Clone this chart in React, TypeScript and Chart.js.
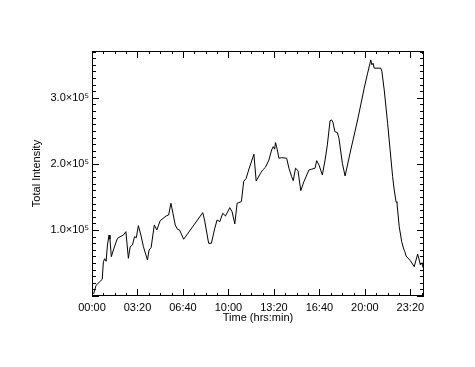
import React, { useEffect, useRef } from 'react';
import { Chart, registerables } from 'chart.js';

Chart.register(...registerables);

// Time in minutes since 00:00
const timeMinutes = [
  7, 18, 45, 50, 56, 62, 68, 75, 79, 85, 94, 112, 138, 149, 160, 168, 178, 187, 195, 204,
  215, 226, 244, 251, 260, 274, 285, 300, 326, 337, 347, 356, 366, 376, 385, 403, 487, 495,
  513, 525, 540, 550, 562, 575, 587, 606, 616, 628, 638, 657, 667, 678, 689, 712, 722, 741,
  751, 763, 778, 790, 797, 803, 807, 815, 822, 834, 856, 866, 878, 885, 895, 906, 918, 932,
  954, 966, 981, 988, 998, 1013, 1025, 1035, 1047, 1054, 1060, 1068, 1079, 1086, 1101, 1113,
  1138, 1168, 1197, 1212, 1226, 1231, 1236, 1241, 1270, 1275, 1285, 1300, 1311, 1322, 1329,
  1337, 1341, 1351, 1362, 1371, 1376, 1381, 1400, 1417, 1425, 1432, 1439, 1444, 1451, 1456,
];

// Total intensity values
const intensity = [
  3000, 16200, 25300, 52000, 56500, 52600, 77300, 92400, 85900, 59500, 69700, 87400, 92400,
  97400, 57100, 74700, 77300, 89800, 88300, 106500, 92400, 74700, 54500, 69700, 73200, 107600,
  100000, 114100, 121200, 122700, 140400, 125300, 107600, 101000, 100000, 85900, 126200,
  115100, 79800, 79800, 102600, 115100, 112600, 125300, 121200, 133800, 127700, 109100,
  140400, 142900, 173200, 178300, 190900, 214700, 174200, 185900, 190900, 195000, 206000,
  221200, 226200, 222300, 232300, 221200, 208600, 209500, 208600, 193500, 180700, 174700,
  193500, 189800, 159500, 173200, 190900, 192000, 193500, 205000, 198500, 183300, 206000,
  228800, 265600, 266600, 262500, 248900, 247400, 238900, 201000, 181800, 221200, 266600,
  314700, 337400, 357500, 350000, 352500, 345000, 345000, 339800, 312100, 261600, 221200,
  180700, 160600, 142900, 141300, 105000, 82300, 70800, 67100, 60600, 53500, 44400, 54500,
  63600, 54500, 47000, 50400, 42900,
];

const xMin = 0;
const xMax = 1460;
const yMin = 0;
const yMax = 371000;

const xTickValues = [0, 200, 400, 600, 800, 1000, 1200, 1400];
const yTickValues = [100000, 200000, 300000];
const yTickLabels = ['1.0×10⁵', '2.0×10⁵', '3.0×10⁵'];
const xMinorStep = 50;
const yMinorStep = 10000;

const xTitle = 'Time (hrs:min)';
const yTitle = 'Total Intensity';

function fmtTime(m: number): string {
  const h = Math.floor(m / 60);
  const mm = Math.round(m - h * 60);
  return String(h).padStart(2, '0') + ':' + String(mm).padStart(2, '0');
}

const framePlugin = {
  id: 'idlFrame',
  afterDraw(chart: any) {
    const { ctx, chartArea } = chart;
    const { left, right, top, bottom } = chartArea;
    const x = chart.scales.x;
    const y = chart.scales.y;
    ctx.save();
    ctx.strokeStyle = '#000';
    ctx.lineWidth = 1;
    ctx.strokeRect(left + 0.5, top + 0.5, right - left - 1, bottom - top - 1);
    ctx.beginPath();
    for (let v = xMin; v <= xMax; v += xMinorStep) {
      const px = Math.round(x.getPixelForValue(v)) + 0.5;
      const major = xTickValues.includes(v);
      const len = major ? 7 : 3;
      ctx.moveTo(px, bottom);
      ctx.lineTo(px, bottom - len);
      ctx.moveTo(px, top);
      ctx.lineTo(px, top + len);
    }
    for (let v = yMin; v <= yMax; v += yMinorStep) {
      const py = Math.round(y.getPixelForValue(v)) + 0.5;
      const major = v % 100000 === 0;
      const len = major ? 7 : 4;
      ctx.moveTo(left, py);
      ctx.lineTo(left + len, py);
      ctx.moveTo(right, py);
      ctx.lineTo(right - len, py);
    }
    ctx.stroke();
    ctx.restore();
  },
};

export default function App() {
  const canvasRef = useRef<HTMLCanvasElement | null>(null);

  useEffect(() => {
    const canvas = canvasRef.current;
    if (!canvas) return;
    const font = { family: '"Liberation Sans", Arial, sans-serif', size: 11 };
    const chart = new Chart(canvas, {
      type: 'line',
      data: {
        datasets: [
          {
            data: timeMinutes.map((t, i) => ({ x: t, y: intensity[i] })),
            borderColor: '#000',
            borderWidth: 1,
            pointRadius: 0,
            tension: 0,
            fill: false,
          },
        ],
      },
      options: {
        responsive: false,
        animation: false,
        devicePixelRatio: 1,
        layout: { padding: { left: 0, right: 51, top: 51, bottom: 0 } },
        plugins: {
          legend: { display: false },
          tooltip: { enabled: false },
        },
        scales: {
          x: {
            type: 'linear',
            min: xMin,
            max: xMax,
            grid: { display: false, drawTicks: false },
            border: { display: false },
            afterBuildTicks: (scale: any) => {
              scale.ticks = xTickValues.map((v) => ({ value: v }));
            },
            afterFit: (scale: any) => {
              scale.height = 71;
            },
            ticks: {
              color: '#000',
              font,
              padding: 5,
              maxRotation: 0,
              autoSkip: false,
              callback: (v: any) => fmtTime(Number(v)),
            },
            title: {
              display: true,
              text: xTitle,
              color: '#000',
              font,
              padding: { top: 0, bottom: 42 },
            },
          },
          y: {
            type: 'linear',
            min: yMin,
            max: yMax,
            grid: { display: false, drawTicks: false },
            border: { display: false },
            afterBuildTicks: (scale: any) => {
              scale.ticks = yTickValues.map((v) => ({ value: v }));
            },
            afterFit: (scale: any) => {
              scale.width = 92;
            },
            ticks: {
              color: '#000',
              font,
              padding: 3,
              autoSkip: false,
              callback: (v: any) => {
                const i = yTickValues.indexOf(Number(v));
                return i >= 0 ? yTickLabels[i] : '';
              },
            },
            title: {
              display: true,
              text: yTitle,
              color: '#000',
              font,
              padding: { top: 30, bottom: 0 },
            },
          },
        },
      },
      plugins: [framePlugin],
    });
    return () => chart.destroy();
  }, []);

  return (
    <div style={{ position: 'fixed', left: 0, top: 0, width: 475, height: 367, background: '#fff' }}>
      <canvas ref={canvasRef} width={475} height={367} style={{ display: 'block' }} />
    </div>
  );
}
